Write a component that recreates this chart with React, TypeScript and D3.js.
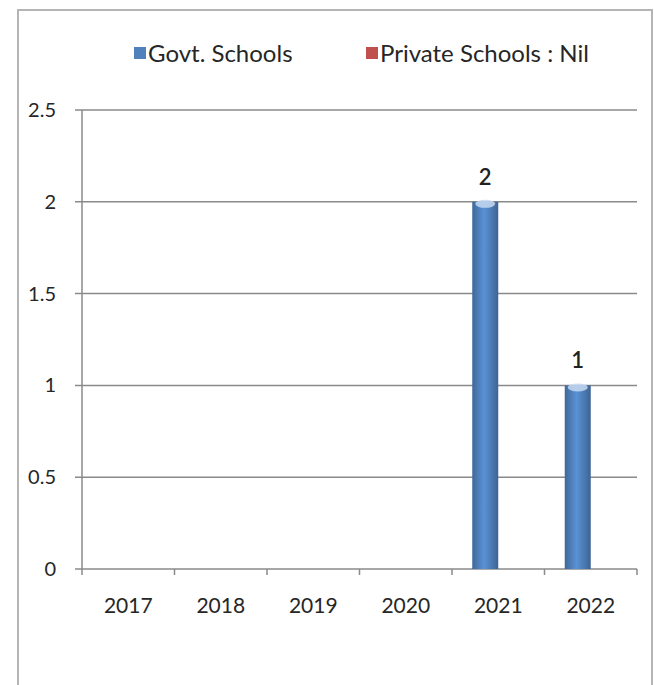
import React from "react";
import * as d3 from "d3";

const categories = ["2017", "2018", "2019", "2020", "2021", "2022"];
const govtValues = [0, 0, 0, 0, 2, 1];
const privateValues = [0, 0, 0, 0, 0, 0];
const yTicks = [0, 0.5, 1, 1.5, 2, 2.5];
const seriesNames = ["Govt. Schools", "Private Schools : Nil"];
const seriesColors = ["#4F81BD", "#C0504D"];

const W = 654;
const H = 685;
const m = { left: 82, right: 637, top: 110, bottom: 569 };
const FONT = "Lato, 'Open Sans', sans-serif";

export default function App() {
  const x = d3.scaleBand<string>().domain(categories).range([m.left, m.right]).paddingInner(0).paddingOuter(0);
  const y = d3.scaleLinear().domain([0, 2.5]).range([m.bottom, m.top]);
  const inner = d3.scaleBand<number>().domain([0, 1]).range([0, x.bandwidth()]).paddingInner(0).paddingOuter(0.5 * (x.bandwidth() - 52) / 26);
  const bw = inner.bandwidth();
  const series = [govtValues, privateValues];

  return (
    <svg width={W} height={H} style={{ position: "absolute", left: 0, top: 0, background: "#fff" }}>
      <defs>
        {seriesColors.map((c, i) => (
          <linearGradient key={i} id={`g${i}`} x1="0" x2="1" y1="0" y2="0">
            <stop offset="0%" stopColor={d3.color(c)!.darker(0.6).formatHex()} />
            <stop offset="45%" stopColor={d3.color(c)!.brighter(0.35).formatHex()} />
            <stop offset="100%" stopColor={d3.color(c)!.darker(0.7).formatHex()} />
          </linearGradient>
        ))}
      </defs>
      <rect x={18} y={10} width={634} height={H + 10} fill="none" stroke="#b5b5b5" strokeWidth={2} />
      {/* legend */}
      {seriesNames.map((n, i) => {
        const lx = [134, 366][i];
        return (
          <g key={n}>
            <rect x={lx} y={47} width={12} height={12} fill={seriesColors[i]} />
            <text x={lx + 14} y={62} fontFamily={FONT} fontSize={24} fill="#262626">{n}</text>
          </g>
        );
      })}
      {/* gridlines */}
      {yTicks.map((t) => (
        <g key={t}>
          <line x1={m.left - 7} x2={m.right} y1={y(t)} y2={y(t)} stroke="#8a8a8a" strokeWidth={1.5} />
          <text x={56} y={y(t) + 7} textAnchor="end" fontFamily={FONT} fontSize={20} fill="#262626">{t}</text>
        </g>
      ))}
      <line x1={m.left} x2={m.left} y1={m.top} y2={m.bottom} stroke="#8a8a8a" strokeWidth={1.5} />
      {/* x ticks */}
      {[...categories.map((c) => x(c)!), m.right].map((p, i) => (
        <line key={i} x1={p} x2={p} y1={m.bottom} y2={m.bottom + 6} stroke="#8a8a8a" strokeWidth={1.5} />
      ))}
      {categories.map((c) => (
        <text key={c} x={x(c)! + x.bandwidth() / 2} y={613} textAnchor="middle" fontFamily={FONT} fontSize={21} fill="#262626">{c}</text>
      ))}
      {/* bars */}
      {series.map((vals, si) =>
        vals.map((v, ci) => {
          if (v <= 0) return null;
          const bx = x(categories[ci])! + inner(si)!;
          const top = y(v);
          return (
            <g key={`${si}-${ci}`}>
              <rect x={bx} y={top} width={bw} height={y(0) - top} fill={`url(#g${si})`} />
              <ellipse cx={bx + bw / 2} cy={top + 2} rx={bw / 2 - 3} ry={4} fill="#c6d9f1" opacity={0.85} />
              <text x={bx + bw / 2} y={top - 17} textAnchor="middle" fontFamily={FONT} fontSize={22} fontWeight={600} fill="#222">{v}</text>
            </g>
          );
        })
      )}
    </svg>
  );
}
